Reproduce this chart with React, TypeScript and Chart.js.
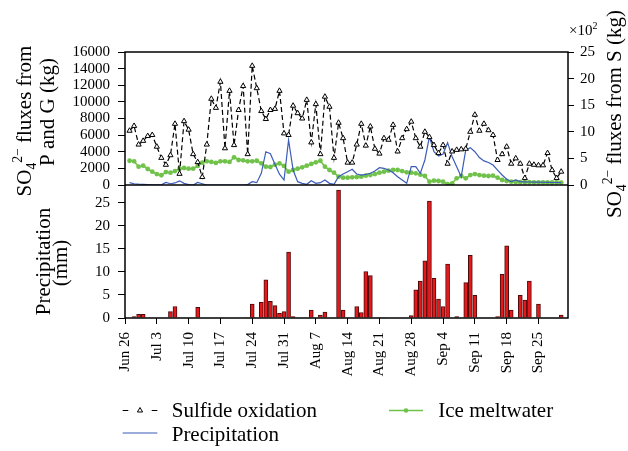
import React, { useEffect, useRef } from "react";
import { Chart, registerables } from "chart.js";

Chart.register(...registerables);

// ---------- DATA ----------
// x axis: day number counted from Jun 26 (day 0); daily series start on Jun 27 (day 1)
const firstDay = 1;
const xMaxDay = 97.5;
const weekLabels = [
  "Jun 26", "Jul 3", "Jul 10", "Jul 17", "Jul 24", "Jul 31", "Aug 7",
  "Aug 14", "Aug 21", "Aug 28", "Sep 4", "Sep 11", "Sep 18", "Sep 25",
];

// Sulfide oxidation, SO4 flux from S (x10^2 kg), right axis
const sulfide = [
  10.2, 11.1, 7.6, 8.3, 9.2, 9.4, 7.2, 5.1, 3.8, 5.6,
  11.5, 2.1, 12.0, 10.4, 5.8, 4.3, 1.5, 7.6, 16.2, 14.5,
  19.4, 6.9, 17.7, 7.5, 14.1, 18.6, 5.8, 22.4, 18.2, 13.9,
  12.4, 14.1, 14.3, 17.7, 9.7, 9.4, 14.9, 13.5, 12.5, 16.0,
  8.0, 15.2, 5.8, 16.6, 14.7, 5.1, 11.7, 8.8, 4.2, 4.2,
  7.6, 11.5, 7.4, 11.0, 6.8, 5.9, 8.8, 8.5, 11.3, 6.3,
  8.8, 10.5, 11.9, 8.8, 7.2, 10.0, 9.0, 7.5, 6.0, 7.5,
  4.0, 6.3, 6.6, 6.7, 6.8, 10.0, 13.2, 10.2, 11.5, 10.3,
  9.4, 4.7, 5.8, 7.2, 4.0, 5.0, 4.0, 1.3, 4.0, 3.8,
  3.7, 3.7, 6.0, 2.8, 1.3, 2.5,
];

// Ice meltwater, SO4 flux (kg), left axis
const iceMelt = [
  2920, 2850, 2200, 2320, 1925, 1600, 1320, 1170, 1560, 1480,
  1680, 1960, 2045, 1960, 1960, 2290, 2680, 2850, 2770, 2650,
  2850, 2850, 2770, 3330, 3010, 2970, 2850, 2850, 2920, 2610,
  2200, 2165, 2450, 2600, 2290, 1600, 1805, 1960, 2130, 2320,
  2530, 2730, 2920, 2200, 1805, 1480, 1000, 880, 880, 925,
  960, 1000, 1120, 1200, 1320, 1480, 1600, 1720, 1805, 1805,
  1680, 1530, 1480, 1410, 1240, 1080, 400, 520, 480, 400,
  100, 200, 805, 1080, 805, 1200, 1320, 1200, 1120, 1080,
  1120, 880, 600, 480, 400, 360, 340, 330, 330, 320,
  320, 310, 310, 300, 300, 290,
];

// Precipitation, SO4 flux (kg), left axis
const precipFlux = [
  280, 150, 100, 80, 50, 30, 20, 20, 300, 150,
  250, 500, 200, 50, 0, 300, 150, 0, 0, 0,
  0, 0, 0, 0, 0, 0, 50, 400, 280, 1410,
  4000, 3770, 2500, 1300, 600, 5410, 1805, 400, 200, 85,
  520, 200, 280, 600, 200, 85, 1000, 1320, 1600, 1890,
  1320, 1200, 1280, 1410, 1680, 2085, 2005, 1805, 1480, 1000,
  600, 200, 2200, 2200, 1410, 3010, 5810, 4000, 3490, 3730,
  5090, 3400, 2200, 1000, 4210, 4490, 4000, 3300, 2900, 2700,
  2400, 1800, 1200, 700, 400, 600, 400, 380, 360, 350,
  340, 330, 320, 300, 300, 290,
];

// Daily precipitation (mm), lower panel
const rainDays = [
  2, 3, 4, 10, 11, 16, 27, 28, 30, 31, 32, 33, 34, 35, 36, 37, 41, 43, 44, 47,
  48, 51, 52, 53, 54, 56, 57, 63, 64, 65, 66, 67, 68, 69, 70, 71, 73, 75, 76, 77,
  82, 83, 84, 85, 87, 88, 89, 91, 96,
];
const rainMm = [
  0.3, 0.8, 0.8, 1.4, 2.5, 2.3, 0.1, 3.0, 3.4, 8.3, 3.6, 2.7, 1.0, 1.4, 14.3, 0.3, 1.7, 0.65, 1.3, 27.8,
  1.7, 2.5, 1.2, 10.1, 9.2, 0.1, 0.1, 0.5, 6.1, 8.0, 12.4, 25.4, 8.6, 4.1, 2.5, 11.7, 0.3, 7.7, 13.6, 4.9,
  0.3, 9.5, 15.7, 1.7, 4.9, 3.9, 8.0, 3.0, 0.65,
];

// ---------- STYLE ----------
const SERIF = "'Liberation Serif', 'Times New Roman', serif";
const W = 628;
const H = 451;
const BLACK = "#000";
const BLUE = "#3b5cb8";
const GREEN = "#70c24a";
const RED = "#e3191c";
const DARKRED = "#4d0a0a";

Chart.defaults.font.family = SERIF;
Chart.defaults.color = BLACK;

type Seg = { t: string; s?: number; dy?: number };

function drawVertRich(ctx: CanvasRenderingContext2D, segs: Seg[], size: number, baseX: number, cy: number) {
  ctx.save();
  let w = 0;
  for (const g of segs) {
    ctx.font = `${size * (g.s || 1)}px ${SERIF}`;
    w += ctx.measureText(g.t).width;
  }
  ctx.translate(baseX, cy);
  ctx.rotate(-Math.PI / 2);
  ctx.textAlign = "left";
  ctx.textBaseline = "alphabetic";
  ctx.fillStyle = BLACK;
  let u = -w / 2;
  for (const g of segs) {
    ctx.font = `${size * (g.s || 1)}px ${SERIF}`;
    ctx.fillText(g.t, u, (g.dy || 0) * size);
    u += ctx.measureText(g.t).width;
  }
  ctx.restore();
}

const SO4: Seg[] = [
  { t: "SO" },
  { t: "4", s: 0.65, dy: 0.25 },
  { t: "2\u2212", s: 0.65, dy: -0.42 },
];

const topDecor = {
  id: "topDecor",
  afterDatasetsDraw(chart: any) {
    const ctx: CanvasRenderingContext2D = chart.ctx;
    const a = chart.chartArea;
    ctx.save();
    ctx.strokeStyle = BLACK;
    ctx.lineWidth = 1.5;
    ctx.strokeRect(a.left, a.top, a.right - a.left, a.bottom - a.top);
    ctx.restore();
  },
  afterDraw(chart: any) {
    const ctx: CanvasRenderingContext2D = chart.ctx;
    const T = 21;
    drawVertRich(ctx, [...SO4, { t: " fluxes from" }], T, 30.5, 121);
    drawVertRich(ctx, [{ t: "P and G (kg)" }], T, 54, 112);
    drawVertRich(ctx, [...SO4, { t: " fluxes from S (kg)" }], T, 621, 114);
    // x10^2 multiplier
    ctx.save();
    ctx.fillStyle = BLACK;
    ctx.textAlign = "left";
    ctx.textBaseline = "alphabetic";
    ctx.font = `15px ${SERIF}`;
    const m = "\u00d710";
    ctx.fillText(m, 569, 35);
    const mw = ctx.measureText(m).width;
    ctx.font = `10px ${SERIF}`;
    ctx.fillText("2", 569 + mw, 28.5);
    ctx.restore();
  },
};

const bottomDecor = {
  id: "bottomDecor",
  afterDatasetsDraw(chart: any) {
    const ctx: CanvasRenderingContext2D = chart.ctx;
    const a = chart.chartArea;
    ctx.save();
    ctx.strokeStyle = BLACK;
    ctx.lineWidth = 1.5;
    ctx.beginPath();
    ctx.moveTo(a.left, a.top);
    ctx.lineTo(a.left, a.bottom);
    ctx.lineTo(a.right, a.bottom);
    ctx.lineTo(a.right, a.top);
    ctx.stroke();
    ctx.restore();
  },
  afterDraw(chart: any) {
    const ctx: CanvasRenderingContext2D = chart.ctx;
    const T = 21;
    drawVertRich(ctx, [{ t: "Precipitation" }], T, 50, 261.5);
    drawVertRich(ctx, [{ t: "(mm)" }], T, 66.5, 263);

    // legend
    ctx.save();
    const r1 = 410.5;
    const r2 = 433;
    ctx.strokeStyle = BLACK;
    ctx.lineWidth = 1.2;
    ctx.beginPath();
    ctx.moveTo(122.7, r1);
    ctx.lineTo(128.3, r1);
    ctx.moveTo(151.7, r1);
    ctx.lineTo(157.3, r1);
    ctx.stroke();
    // triangle marker
    const tr = 3;
    const cx = 140;
    ctx.beginPath();
    for (let k = 0; k < 3; k++) {
      const ang = (k * 2 * Math.PI) / 3;
      const px = cx + Math.sin(ang) * tr;
      const py = r1 - Math.cos(ang) * tr;
      if (k === 0) ctx.moveTo(px, py);
      else ctx.lineTo(px, py);
    }
    ctx.closePath();
    ctx.fillStyle = "#fff";
    ctx.fill();
    ctx.lineWidth = 1;
    ctx.stroke();

    ctx.strokeStyle = GREEN;
    ctx.lineWidth = 1.6;
    ctx.beginPath();
    ctx.moveTo(389, r1);
    ctx.lineTo(423, r1);
    ctx.stroke();
    ctx.fillStyle = GREEN;
    ctx.beginPath();
    ctx.arc(406, r1, 2.3, 0, Math.PI * 2);
    ctx.fill();

    ctx.strokeStyle = BLUE;
    ctx.lineWidth = 1.2;
    ctx.beginPath();
    ctx.moveTo(122.7, r2);
    ctx.lineTo(157.3, r2);
    ctx.stroke();

    ctx.fillStyle = BLACK;
    ctx.font = `21px ${SERIF}`;
    ctx.textAlign = "left";
    ctx.textBaseline = "alphabetic";
    ctx.fillText("Sulfide oxidation", 171.7, 417);
    ctx.fillText("Ice meltwater", 438.3, 417);
    ctx.fillText("Precipitation", 171.7, 441);
    ctx.restore();
  },
};

const tickFont = { size: 15, family: SERIF };
const plainNum = (v: any) => String(v);

function makeTop(canvas: HTMLCanvasElement) {
  return new Chart(canvas, {
    type: "line",
    data: {
      datasets: [
        {
          label: "Sulfide oxidation",
          data: sulfide.map((v, i) => ({ x: firstDay + i, y: v })),
          yAxisID: "yS",
          borderColor: BLACK,
          borderWidth: 1.2,
          borderDash: [5, 3],
          pointStyle: "triangle",
          pointRadius: 3,
          pointBackgroundColor: "#fff",
          pointBorderColor: BLACK,
          pointBorderWidth: 1,
          tension: 0,
          order: 0,
        },
        {
          label: "Precipitation",
          data: precipFlux.map((v, i) => ({ x: firstDay + i, y: v })),
          yAxisID: "yPG",
          borderColor: BLUE,
          borderWidth: 1.2,
          pointRadius: 0,
          tension: 0,
          order: 1,
        },
        {
          label: "Ice meltwater",
          data: iceMelt.map((v, i) => ({ x: firstDay + i, y: v })),
          yAxisID: "yPG",
          borderColor: GREEN,
          borderWidth: 1.6,
          pointRadius: 2.4,
          pointBackgroundColor: GREEN,
          pointBorderColor: GREEN,
          pointBorderWidth: 0,
          tension: 0,
          order: 2,
        },
      ],
    } as any,
    options: {
      responsive: false,
      animation: false,
      devicePixelRatio: 1,
      layout: { padding: { top: 52, bottom: H - 185, left: 0, right: 0 } },
      plugins: { legend: { display: false }, tooltip: { enabled: false } },
      scales: {
        x: { type: "linear", min: 0, max: xMaxDay, display: false },
        yPG: {
          position: "left",
          min: 0,
          max: 16000,
          ticks: { stepSize: 2000, includeBounds: false, autoSkip: false, callback: plainNum, font: tickFont, color: BLACK, padding: 8 },
          grid: { drawOnChartArea: false, drawTicks: true, tickLength: 7, color: BLACK, lineWidth: 1 },
          border: { display: false },
          afterFit: (s: any) => {
            s.width = 125;
          },
        },
        yS: {
          position: "right",
          min: 0,
          max: 25,
          ticks: { stepSize: 5, includeBounds: false, autoSkip: false, callback: plainNum, font: tickFont, color: BLACK, padding: 6 },
          grid: { drawOnChartArea: false, drawTicks: true, tickLength: 6, color: BLACK, lineWidth: 1 },
          border: { display: false },
          afterFit: (s: any) => {
            s.width = W - 568;
          },
        },
      },
    } as any,
    plugins: [topDecor],
  });
}

function makeBottom(canvas: HTMLCanvasElement) {
  return new Chart(canvas, {
    type: "bar",
    data: {
      datasets: [
        {
          label: "Precipitation (mm)",
          data: rainDays.map((d, i) => ({ x: d, y: rainMm[i] })),
          backgroundColor: RED,
          borderColor: DARKRED,
          borderWidth: 1,
          barThickness: 4,
        },
      ],
    } as any,
    options: {
      responsive: false,
      animation: false,
      devicePixelRatio: 1,
      layout: { padding: { top: 185, bottom: 0, left: 0, right: W - 568 } },
      plugins: { legend: { display: false }, tooltip: { enabled: false } },
      scales: {
        x: {
          type: "linear",
          min: 0,
          max: xMaxDay,
          offset: false,
          ticks: {
            stepSize: 7,
            includeBounds: false,
            autoSkip: false,
            minRotation: 90,
            maxRotation: 90,
            padding: 8,
            font: tickFont,
            color: BLACK,
            callback: (v: any) => weekLabels[Math.round(Number(v) / 7)] ?? "",
          },
          grid: { offset: false, drawOnChartArea: false, drawTicks: true, tickLength: 6, color: BLACK, lineWidth: 1 },
          border: { display: false },
          afterFit: (s: any) => {
            s.height = H - 318;
          },
        },
        y: {
          position: "left",
          min: 0,
          max: 28.9,
          ticks: { stepSize: 5, includeBounds: false, autoSkip: false, callback: plainNum, font: tickFont, color: BLACK, padding: 8 },
          grid: { drawOnChartArea: false, drawTicks: true, tickLength: 7, color: BLACK, lineWidth: 1 },
          border: { display: false },
          afterFit: (s: any) => {
            s.width = 125;
          },
        },
      },
    } as any,
    plugins: [bottomDecor],
  });
}

export default function App() {
  const topRef = useRef<HTMLCanvasElement>(null);
  const botRef = useRef<HTMLCanvasElement>(null);
  useEffect(() => {
    const top = makeTop(topRef.current!);
    const bot = makeBottom(botRef.current!);
    let alive = true;
    if ((document as any).fonts && (document as any).fonts.load) {
      Promise.all([
        (document as any).fonts.load(`15px "Liberation Serif"`),
        (document as any).fonts.load(`21px "Liberation Serif"`),
      ]).then(() => {
        if (alive) {
          top.update();
          bot.update();
        }
      });
    }
    return () => {
      alive = false;
      top.destroy();
      bot.destroy();
    };
  }, []);
  const cs: React.CSSProperties = { position: "absolute", left: 0, top: 0, width: W, height: H };
  return (
    <div style={{ position: "absolute", left: 0, top: 0, width: W, height: H, background: "#fff" }}>
      <canvas ref={topRef} width={W} height={H} style={cs} />
      <canvas ref={botRef} width={W} height={H} style={cs} />
    </div>
  );
}
